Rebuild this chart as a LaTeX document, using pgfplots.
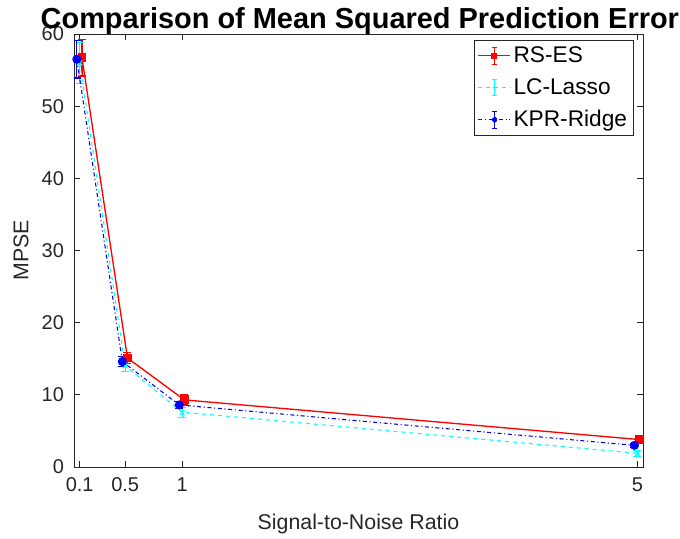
\documentclass[border=0pt]{standalone}
\usepackage{fontspec}
\setmainfont{Liberation Sans}
\usepackage{pgfplots}
\pgfplotsset{compat=1.18}

\definecolor{axgray}{RGB}{38,38,38}
\definecolor{cyanm}{RGB}{0,255,255}

% legend sample: line, small mark and a vertical error bar with caps
\pgfplotsset{
  ebimage/.style n args={3}{
    legend image code/.code={
      \draw[#1,#2,line width=0.8pt] (0cm,0cm) -- (0.85cm,0cm);
      \draw[#1,solid,line width=0.8pt] (0.425cm,-0.22cm) -- (0.425cm,0.22cm)
        (0.36cm,0.22cm) -- (0.49cm,0.22cm) (0.36cm,-0.22cm) -- (0.49cm,-0.22cm);
      \fill[#1] (0.425cm,0cm) #3;
    }
  }
}

\begin{document}
\begin{tikzpicture}
\useasboundingbox (0pt,0pt) rectangle (510pt,403.5pt);
\begin{axis}[
  at={(55.5pt,53.25pt)}, anchor=south west,
  scale only axis, width=426.75pt, height=324.75pt,
  xmin=0.05, xmax=5.05, ymin=0, ymax=60,
  xtick={0.1,0.5,1,5}, xticklabels={0.1,0.5,1,5},
  ytick={0,10,20,30,40,50,60},
  tick align=inside, tick pos=both,
  major tick length=4.5pt,
  axis line style={axgray, line width=0.6pt},
  tick style={axgray, line width=0.5pt},
  /pgf/number format/assume math mode=true,
  tick label style={font=\fontsize{15}{17}\selectfont, text=axgray},
  xticklabel style={yshift=-4.5pt},
  yticklabel style={xshift=-4pt},
  xlabel={Signal-to-Noise Ratio},
  ylabel={MPSE},
  label style={font=\fontsize{16}{18}\selectfont, text=axgray},
  xlabel style={yshift=-10pt},
  ylabel style={yshift=3pt},
  title={\textbf{Comparison of Mean Squared Prediction Error}},
  title style={font=\fontsize{21.7}{24}\selectfont, yshift=-10pt, xshift=1pt},
  legend style={font=\fontsize{17}{20}\selectfont, draw=axgray, line width=0.5pt,
    at={(0.983,0.985)}, anchor=north east, inner sep=2.5pt, row sep=6.5pt},
  legend cell align=left,
]
\addplot[red, line width=1pt, mark=square*, mark size=2.8pt,
  ebimage={red}{solid}{+(-1.7pt,-1.7pt) rectangle +(1.7pt,1.7pt)},
  error bars/.cd, y dir=both, y explicit, error bar style={line width=1pt}, error mark options={rotate=90, mark size=3pt, line width=1pt}]
  coordinates {
    (0.12,56.7) +- (0,2.5)
    (0.52,15.1) +- (0,0.8)
    (1.02,9.3) +- (0,0.7)
    (5.02,3.8) +- (0,0.3)
  };
\addlegendentry{RS-ES}
\addplot[cyanm, line width=0.8pt, dashed, mark=x, mark size=2.5pt, mark options={solid},
  ebimage={cyanm}{dashed}{circle (0.8pt)},
  error bars/.cd, y dir=both, y explicit, error bar style={line width=0.8pt, solid}, error mark options={rotate=90, mark size=3pt, line width=0.8pt}]
  coordinates {
    (0.10,56.0) +- (0,2.8)
    (0.50,14.0) +- (0,0.8)
    (1.00,7.6) +- (0,0.7)
    (5.00,1.9) +- (0,0.4)
  };
\addlegendentry{LC-Lasso}
\addplot[blue, line width=0.8pt, dash dot, mark=*, mark size=3pt, mark options={solid},
  ebimage={blue}{dash dot}{circle (1.8pt)},
  error bars/.cd, y dir=both, y explicit, error bar style={line width=0.8pt, solid}, error mark options={rotate=90, mark size=3pt, line width=0.8pt}]
  coordinates {
    (0.075,56.5) +- (0,2.6)
    (0.475,14.6) +- (0,0.7)
    (0.975,8.6) +- (0,0.5)
    (4.975,3.0) +- (0,0.3)
  };
\addlegendentry{KPR-Ridge}
\end{axis}
\end{tikzpicture}
\end{document}
